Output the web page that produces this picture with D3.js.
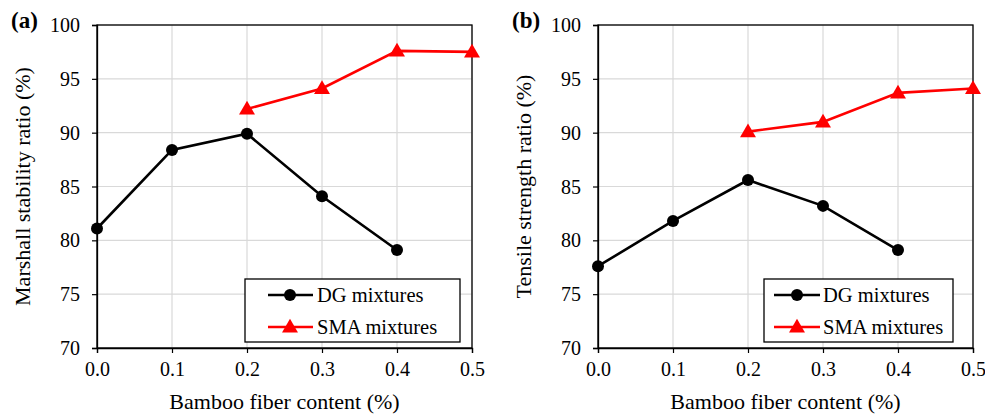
<!DOCTYPE html>
<html>
<head>
<meta charset="utf-8">
<script src="https://cdn.jsdelivr.net/npm/d3@7"></script>
<style>
  body { margin: 0; background: #fff; }
  svg text { font-family: "Liberation Serif", "Times New Roman", serif; fill: #000; }
</style>
</head>
<body>
<div class="canvas"></div>
<script>
// fiber content (%) on x
const content = [0.0, 0.1, 0.2, 0.3, 0.4, 0.5];
const xTicks = [0.0, 0.1, 0.2, 0.3, 0.4, 0.5];
const yTicks = [70, 75, 80, 85, 90, 95, 100];

// panel (a) marshall stability ratio
const dgMarshall = [81.1, 88.4, 89.9, 84.1, 79.1];
const smaMarshall = [null, null, 92.2, 94.1, 97.6, 97.5];
// panel (b) tensile strength ratio
const dgTensile = [77.6, 81.8, 85.6, 83.2, 79.1];
const smaTensile = [null, null, 90.1, 91.0, 93.7, 94.1];

const panels = [
  { tag: '(a)', ylabel: 'Marshall stability ratio (%)', dg: dgMarshall, sma: smaMarshall, left: 97,
    leg: { x: 148, w: 215, line: [23, 68], mk: 45, tx: 72 } },
  { tag: '(b)', ylabel: 'Tensile strength ratio (%)', dg: dgTensile, sma: smaTensile, left: 598,
    leg: { x: 166, w: 189, line: [10, 56], mk: 33, tx: 59 } }
];

const svg = d3.select('.canvas').append('svg')
  .attr('width', 985)
  .attr('height', 415);

const plotW = 375, plotTop = 25, plotBottom = 348;

panels.forEach(p => {
  const x = d3.scaleLinear().domain([0, 0.5]).range([0, plotW]);
  const y = d3.scaleLinear().domain([70, 100]).range([plotBottom - plotTop, 0]);
  const g = svg.append('g').attr('transform', `translate(${p.left},${plotTop})`);
  const h = plotBottom - plotTop;

  // grid
  g.selectAll('.gy').data(yTicks).enter().append('line')
    .attr('x1', 0).attr('x2', plotW)
    .attr('y1', d => y(d)).attr('y2', d => y(d))
    .attr('stroke', '#d9d9d9').attr('stroke-width', 1.2);
  g.selectAll('.gx').data(xTicks).enter().append('line')
    .attr('x1', d => x(d)).attr('x2', d => x(d))
    .attr('y1', 0).attr('y2', h)
    .attr('stroke', '#d9d9d9').attr('stroke-width', 1.2);

  // frame
  g.append('rect').attr('x', 0).attr('y', 0).attr('width', plotW).attr('height', h)
    .attr('fill', 'none').attr('stroke', '#000').attr('stroke-width', 1.3);

  // axes
  const yAxis = g.append('g').call(d3.axisLeft(y).tickValues(yTicks).tickSize(5).tickPadding(12));
  const xAxis = g.append('g').attr('transform', `translate(0,${h})`)
    .call(d3.axisBottom(x).tickValues(xTicks).tickFormat(d3.format('.1f')).tickSize(5).tickPadding(9));
  [yAxis, xAxis].forEach(a => {
    a.select('.domain').attr('stroke', '#000').attr('stroke-width', 1.3);
    a.selectAll('.tick line').attr('stroke', '#000').attr('stroke-width', 1.2);
    a.selectAll('text').attr('font-size', 20);
  });
  yAxis.selectAll('text').attr('dy', '0.33em');

  // titles
  g.append('text').attr('x', plotW / 2).attr('y', h + 61)
    .attr('text-anchor', 'middle').attr('font-size', 22).text('Bamboo fiber content (%)');
  g.append('text').attr('transform', `translate(-67,${h / 2}) rotate(-90)`)
    .attr('text-anchor', 'middle').attr('font-size', 22).text(p.ylabel);
  g.append('text').attr('x', -86).attr('y', 3)
    .attr('font-size', 23).attr('font-weight', 'bold').text(p.tag);

  // DG series
  const dgPts = p.dg.map((v, i) => [content[i], v]);
  const line = d3.line().x(d => x(d[0])).y(d => y(d[1]));
  g.append('path').datum(dgPts).attr('d', line)
    .attr('fill', 'none').attr('stroke', '#000').attr('stroke-width', 2.6);
  g.selectAll('.dg').data(dgPts).enter().append('circle')
    .attr('cx', d => x(d[0])).attr('cy', d => y(d[1])).attr('r', 6).attr('fill', '#000');

  // SMA series
  const smaPts = p.sma.map((v, i) => [content[i], v]).filter(d => d[1] != null);
  g.append('path').datum(smaPts).attr('d', line)
    .attr('fill', 'none').attr('stroke', '#ff0000').attr('stroke-width', 2.6);
  const tri = d3.symbol().type(d3.symbolTriangle).size(110);
  g.selectAll('.sma').data(smaPts).enter().append('path')
    .attr('d', tri)
    .attr('transform', d => `translate(${x(d[0])},${y(d[1]) + 1})`)
    .attr('fill', '#ff0000');

  // legend
  const L = p.leg;
  const lg = g.append('g').attr('transform', `translate(${L.x},${279 - plotTop})`);
  lg.append('rect').attr('width', L.w).attr('height', 63)
    .attr('fill', '#fff').attr('stroke', '#000').attr('stroke-width', 1.3);
  const items = [['DG mixtures', '#000', 'circle'], ['SMA mixtures', '#ff0000', 'tri']];
  items.forEach((it, i) => {
    const cy = 16 + i * 32;
    lg.append('line').attr('x1', L.line[0]).attr('x2', L.line[1]).attr('y1', cy).attr('y2', cy)
      .attr('stroke', it[1]).attr('stroke-width', 2.6);
    if (it[2] === 'circle') {
      lg.append('circle').attr('cx', L.mk).attr('cy', cy).attr('r', 6).attr('fill', it[1]);
    } else {
      lg.append('path').attr('d', tri).attr('transform', `translate(${L.mk},${cy + 1})`).attr('fill', it[1]);
    }
    lg.append('text').attr('x', L.tx).attr('y', cy + 7).attr('font-size', 20.5).text(it[0]);
  });
});
</script>
</body>
</html>
